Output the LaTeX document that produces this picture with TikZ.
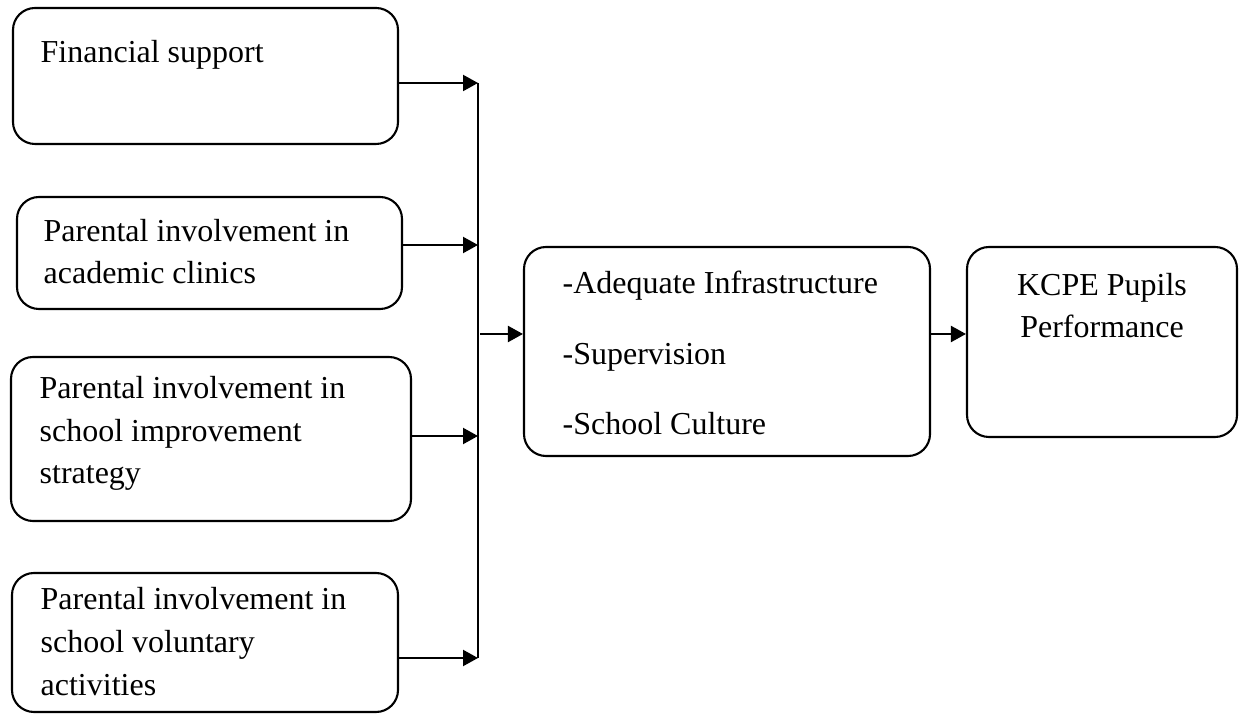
\documentclass[tikz,border=0pt]{standalone}
\usepackage{fontspec}
\setmainfont{Liberation Serif}
\usetikzlibrary{arrows.meta, calc, positioning}

\begin{document}
\begin{tikzpicture}[
    box/.style={draw, rounded corners=0.22cm, line width=0.6pt, inner sep=0pt},
    txt/.style={font=\fontsize{9.1}{12.2}\selectfont, inner sep=0pt, align=left, anchor=base west},
    arr/.style={line width=0.6pt, -{Triangle[length=0.15cm, width=0.16cm]}}
]
    \useasboundingbox (0,0) rectangle (12.45,7.25);

    % Factor boxes (text placed by its last baseline)
    \node[box, minimum width=3.85cm, minimum height=1.36cm] (fin) at (2.055, 6.49) {};
    \node[txt] (fintxt) at (0.40, 6.62) {Financial support};

    \node[box, minimum width=3.85cm, minimum height=1.12cm] (clin) at (2.095, 4.72) {};
    \node[txt] (clintxt) at (0.43, 4.41) {Parental involvement in\\academic clinics};

    \node[box, minimum width=4.00cm, minimum height=1.64cm] (impr) at (2.11, 2.86) {};
    \node[txt] (imprtxt) at (0.39, 2.41) {Parental involvement in\\school improvement\\strategy};

    \node[box, minimum width=3.86cm, minimum height=1.39cm] (volu) at (2.05, 0.825) {};
    \node[txt] (volutxt) at (0.40, 0.30) {Parental involvement in\\school voluntary\\activities};

    % Intervening and outcome boxes
    \node[box, minimum width=4.06cm, minimum height=2.09cm] (mid) at (7.27, 3.735) {};
    \node[txt] (midtxt) at (5.62, 2.90) {-Adequate Infrastructure\\[0.28cm]-Supervision\\[0.28cm]-School Culture};

    \node[box, minimum width=2.70cm, minimum height=1.90cm] (perf) at (11.02, 3.83) {};
    \node[txt, align=center, anchor=base] (perftxt) at (11.02, 3.87) {KCPE Pupils\\Performance};

    % Bus line
    \coordinate (b1) at (4.78, 6.42);
    \coordinate (b2) at (4.78, 4.80);
    \coordinate (b3) at (4.78, 2.89);
    \coordinate (b4) at (4.78, 0.67);
    \coordinate (bm) at (4.80, 3.91);
    \draw[line width=0.45pt] (b1) -- (b4);

    % Edges
    \draw[arr] (b1 -| fin.east) -- (b1);
    \draw[arr] (b2 -| clin.east) -- (b2);
    \draw[arr] (b3 -| impr.east) -- (b3);
    \draw[arr] (b4 -| volu.east) -- (b4);
    \draw[arr] (bm) -- (bm -| mid.west);
    \draw[arr] (bm -| mid.east) -- (bm -| perf.west);
\end{tikzpicture}
\end{document}
